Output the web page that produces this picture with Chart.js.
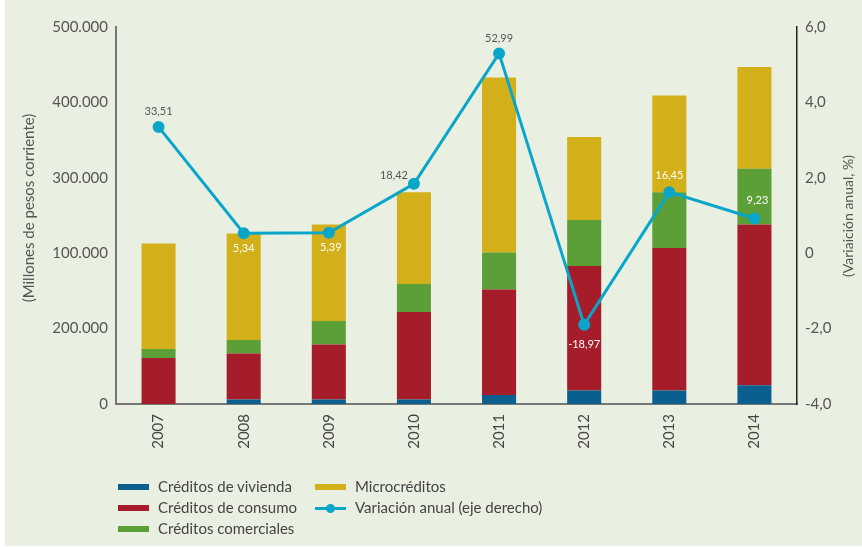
<!DOCTYPE html>
<html>
<head>
<meta charset="utf-8">
<script src="https://cdn.jsdelivr.net/npm/chart.js@4/dist/chart.umd.min.js"></script>
<style>
  body { margin: 0; background: #fff; }
  #box { position: relative; width: 862px; height: 547px; }
  #legend { position: absolute; left: 0; top: 0; font-family: Lato, sans-serif; font-size: 15px; color: #444; }
  .item { position: absolute; white-space: nowrap; }
  .sw { position: absolute; width: 31px; height: 6px; }
  .ln { position: absolute; width: 31px; height: 3px; background: #0AA6C9; }
  .dot { position: absolute; width: 9px; height: 9px; border-radius: 50%; background: #0AA6C9; }
</style>
</head>
<body>
<div id="box">
  <canvas id="chart" width="862" height="547"></canvas>
  <div id="legend"></div>
</div>
<script>
// categories and series (left axis units as drawn)
let years = ['2007', '2008', '2009', '2010', '2011', '2012', '2013', '2014'];
let vivienda = [0, 6000, 6000, 6000, 12000, 18000, 18000, 25000];
let consumo = [61000, 61000, 73000, 116000, 140000, 165000, 189000, 213000];
let comerciales = [12000, 18000, 31000, 37000, 49000, 61000, 74000, 74000];
let microcreditos = [140000, 141000, 128000, 122000, 232000, 110000, 128000, 135000];
// line as plotted on the right axis, and the labels printed next to it
let variacion = [3.35, 0.53, 0.54, 1.84, 5.30, -1.90, 1.62, 0.92];
let variacionLabels = ['33,51', '5,34', '5,39', '18,42', '52,99', '-18,97', '16,45', '9,23'];
// tick labels of the left axis, bottom to top (as printed in the source)
let leftTickLabels = ['0', '200.000', '100.000', '300.000', '400.000', '500.000'];

// where each line label goes: [dx, dy, colour]
let labelPlace = [
    [0, -15, '#555'], [0, 15, '#fff'], [2, 15, '#fff'], [-20, -8, '#555'],
    [0, -15, '#555'], [0, 20, '#fff'], [0, -17, '#fff'], [3, -18, '#fff']
];

const FONT = 'Lato, sans-serif';

const bgPlugin = {
    id: 'bg',
    beforeDraw(chart) {
        let c = chart.ctx;
        c.save();
        c.fillStyle = '#fff';
        c.fillRect(0, 0, chart.width, chart.height);
        c.fillStyle = '#E9F0E2';
        c.fillRect(5, 0, chart.width - 5, chart.height - 1);
        c.restore();
    }
};

const extrasPlugin = {
    id: 'extras',
    afterDraw(chart) {
        let c = chart.ctx;
        c.save();
        // axis titles, both reading bottom to top
        c.fillStyle = '#555';
        c.textAlign = 'center';
        c.textBaseline = 'middle';
        c.font = '15px ' + FONT;
        c.translate(29, 208);
        c.rotate(-Math.PI / 2);
        c.fillText('(Millones de pesos corriente)', 0, 0);
        c.restore();
        c.save();
        c.fillStyle = '#555';
        c.textAlign = 'center';
        c.textBaseline = 'middle';
        c.font = '14px ' + FONT;
        c.translate(848, 216);
        c.rotate(-Math.PI / 2);
        c.fillText('(Variaición anual, %)', 0, 0);
        c.restore();

        // value labels on the line
        let meta = chart.getDatasetMeta(4);
        c.save();
        c.font = '11px ' + FONT;
        c.textAlign = 'center';
        c.textBaseline = 'middle';
        meta.data.forEach((pt, i) => {
            let p = labelPlace[i];
            c.fillStyle = p[2];
            c.fillText(variacionLabels[i], pt.x + p[0], pt.y + p[1]);
        });
        c.restore();
    }
};

new Chart(document.getElementById('chart'), {
    type: 'bar',
    data: {
        labels: years,
        datasets: [
            { label: 'Créditos de vivienda', data: vivienda, backgroundColor: '#0B5F8F', order: 1 },
            { label: 'Créditos de consumo', data: consumo, backgroundColor: '#A51C2B', order: 1 },
            { label: 'Créditos comerciales', data: comerciales, backgroundColor: '#5C9F37', order: 1 },
            { label: 'Microcréditos', data: microcreditos, backgroundColor: '#D3AF1A', order: 1 },
            {
                type: 'line', label: 'Variación anual (eje derecho)', data: variacion, yAxisID: 'y1',
                borderColor: '#0AA6C9', backgroundColor: '#0AA6C9', borderWidth: 3,
                pointRadius: 4.5, pointHoverRadius: 4.5, tension: 0, order: 0
            }
        ]
    },
    options: {
        responsive: false,
        animation: false,
        events: [],
        barPercentage: 0.4,
        categoryPercentage: 1,
        layout: { padding: { top: 27, left: 0, right: 0, bottom: 0 } },
        plugins: { legend: { display: false }, tooltip: { enabled: false } },
        scales: {
            x: {
                stacked: true,
                grid: { display: false, drawTicks: false },
                border: { display: true, color: '#777', width: 2 },
                ticks: { color: '#444', font: { family: FONT, size: 15 }, minRotation: 90, maxRotation: 90, padding: 10 },
                afterFit(s) { s.height = 143; }
            },
            y: {
                stacked: true,
                position: 'left',
                min: 0, max: 500000,
                grid: { display: false, drawTicks: false },
                border: { display: true, color: '#777', width: 2 },
                ticks: {
                    stepSize: 100000, padding: 8, color: '#555', font: { family: FONT, size: 15 },
                    callback: (v, i) => leftTickLabels[i]
                },
                afterFit(s) { s.width = 116; }
            },
            y1: {
                position: 'right',
                min: -4, max: 6,
                grid: { display: false, drawTicks: false },
                border: { display: true, color: '#222', width: 1.5 },
                ticks: {
                    stepSize: 2, padding: 8, color: '#555', font: { family: FONT, size: 15 },
                    callback: v => v === 0 ? '0' : v.toFixed(1).replace('.', ',')
                },
                afterFit(s) { s.width = 65; }
            }
        }
    },
    plugins: [bgPlugin, extrasPlugin]
});

// legend, two columns as in the source
let legendItems = [
    { text: 'Créditos de vivienda', color: '#0B5F8F', x: 118, y: 487 },
    { text: 'Créditos de consumo', color: '#A51C2B', x: 118, y: 508 },
    { text: 'Créditos comerciales', color: '#5C9F37', x: 118, y: 529 },
    { text: 'Microcréditos', color: '#D3AF1A', x: 315, y: 487 },
    { text: 'Variación anual (eje derecho)', line: true, x: 315, y: 508 }
];
let legend = document.getElementById('legend');
legendItems.forEach(it => {
    if (it.line) {
        legend.insertAdjacentHTML('beforeend',
            `<div class="ln" style="left:${it.x}px;top:${it.y - 1.5}px"></div>` +
            `<div class="dot" style="left:${it.x + 11}px;top:${it.y - 4.5}px"></div>`);
    } else {
        legend.insertAdjacentHTML('beforeend',
            `<div class="sw" style="left:${it.x}px;top:${it.y - 3}px;background:${it.color}"></div>`);
    }
    legend.insertAdjacentHTML('beforeend',
        `<div class="item" style="left:${it.x + 40}px;top:${it.y - 10}px">${it.text}</div>`);
});
</script>
</body>
</html>
